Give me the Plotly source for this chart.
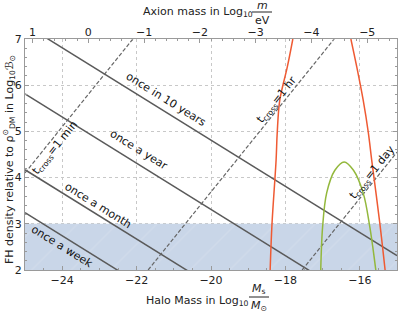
import plotly.graph_objects as go

# ---------------- data ----------------
# event-rate lines (solid): y values at x = -25 and x = -15
rate_x = [-25, -15]
once_10yr = [7.31, 2.31]
once_year = [5.81, 0.81]
once_month = [4.17, -0.83]
once_week = [3.24, -1.76]

# crossing-time lines (dashed)
tmin_x = [-25.0, -22.10]
tmin_y = [4.10, 7.0]
thr_x = [-21.69, -16.69]
thr_y = [2.0, 7.0]
tday_x = [-17.55, -15.0]
tday_y = [2.0, 4.55]

# red curve (two branches, leaving the top of the frame)
red_left_x = [-18.41, -18.36, -18.25, -18.22, -18.15, -17.95, -17.80]
red_left_y = [2.0, 3.0, 4.38, 4.97, 5.68, 6.39, 7.0]
red_right_x = [-16.24, -16.08, -15.91, -15.77, -15.68, -15.46, -15.32]
red_right_y = [7.0, 6.39, 5.68, 4.97, 4.38, 3.0, 2.0]

# green curve
green_x = [-17.05, -17.00, -16.89, -16.67, -16.42, -16.17, -15.91, -15.73, -15.57]
green_y = [2.0, 2.93, 3.67, 4.16, 4.34, 4.16, 3.67, 2.93, 2.0]

# shaded band
band_x = [-25, -15]
band_lo = 2
band_hi = 3

# axes
x_range = [-25, -15]
y_range = [2, 7]
bottom_ticks = [-24, -22, -20, -18, -16]
y_ticks = [2, 3, 4, 5, 6, 7]
axion_logm_ticks = [1, 0, -1, -2, -3, -4, -5]
axion_tick_text = ["1", "0", "\u22121", "\u22122", "\u22123", "\u22124", "\u22125"]
axion_minor = [v / 5 for v in range(7, -28, -1)]
# relation between halo mass and axion mass: logM = A + B*logm
A_REL, B_REL = -23.3, -1.5

FONT = "DejaVu Sans"
GRAY = "#5a5a5a"
FRAME = "#9a9a9a"

fig = go.Figure()

# band
fig.add_trace(go.Scatter(
    x=[band_x[0], band_x[1], band_x[1], band_x[0], band_x[0]],
    y=[band_lo, band_lo, band_hi, band_hi, band_lo],
    fill="toself", fillcolor="#c9d6e8", line=dict(width=0),
    fillpattern=dict(shape="/", fgcolor="#d5dfec", bgcolor="#c9d6e8", size=28, solidity=0.05),
    mode="lines", hoverinfo="skip", showlegend=False))

for ys in (once_10yr, once_year, once_month, once_week):
    fig.add_trace(go.Scatter(x=rate_x, y=ys, mode="lines",
                             line=dict(color=GRAY, width=1.5), showlegend=False))

for xs, ys in ((tmin_x, tmin_y), (thr_x, thr_y), (tday_x, tday_y)):
    fig.add_trace(go.Scatter(x=xs, y=ys, mode="lines",
                             line=dict(color="#666666", width=1.2, dash="4px,2px"),
                             showlegend=False))

for xs, ys in ((red_left_x, red_left_y), (red_right_x, red_right_y)):
    fig.add_trace(go.Scatter(x=xs, y=ys, mode="lines",
                             line=dict(color="#ef5a33", width=1.5, shape="spline"),
                             showlegend=False))

fig.add_trace(go.Scatter(x=green_x, y=green_y, mode="lines",
                         line=dict(color="#93b83c", width=1.5, shape="spline"),
                         showlegend=False))

# dummy trace for top axis
fig.add_trace(go.Scatter(x=[None], y=[None], xaxis="x2", showlegend=False))

# line labels
ang_rate = 31.8
ang_t = -51.2
labels = [
    ("once in 10 years", -21.21, 5.68, ang_rate),
    ("once a year", -21.96, 4.60, ang_rate),
    ("once a month", -23.04, 3.39, ang_rate),
    ("once a week", -24.01, 2.50, ang_rate),
    ("t<sub>cross</sub>=1 min", -24.19, 4.64, ang_t),
    ("t<sub>cross</sub>=1 hr", -18.23, 5.68, ang_t),
    ("t<sub>cross</sub>=1 day", -15.65, 4.12, ang_t),
]
ann = []
for t, x, y, a in labels:
    ann.append(dict(text=t, x=x, y=y, xref="x", yref="y", showarrow=False,
                    xanchor="center", yanchor="middle",
                    textangle=a, font=dict(family=FONT, size=11, color="#111")))

def px2paper_x(px):
    return (px - 25) / 372.0

def px2paper_y(py):
    return (270 - py) / 231.0

title_font = dict(family=FONT, size=11, color="#222")

def add_text(text, px, py, xanchor="center", angle=0):
    ann.append(dict(text=text, x=px2paper_x(px), y=px2paper_y(py), xref="paper", yref="paper",
                    xanchor=xanchor, yanchor="middle", showarrow=False, textangle=angle,
                    font=title_font))

# top title
add_text("Axion mass in Log<sub>10</sub>", 255, 12, xanchor="right")
add_text("<i>m</i>", 262, 5)
add_text("eV", 262, 20)
# bottom title
add_text("Halo Mass in Log<sub>10</sub>", 251, 301, xanchor="right")
add_text("<i>M</i><sub>s</sub>", 259, 289)
add_text("<i>M</i><sub>\u2299</sub>", 259, 306)
# y title
add_text("FH density relative to \u03c1<sup>\u2299</sup><sub>DM</sub> in Log<sub>10</sub>\u212c<sub>\u2299</sub>",
         9, 160, angle=-90)

shapes = [
    dict(type="line", xref="paper", yref="paper", x0=px2paper_x(252), x1=px2paper_x(272),
         y0=px2paper_y(12), y1=px2paper_y(12), line=dict(color="#222", width=1)),
    dict(type="line", xref="paper", yref="paper", x0=px2paper_x(249), x1=px2paper_x(269),
         y0=px2paper_y(297), y1=px2paper_y(297), line=dict(color="#222", width=1)),
]

tick_font = dict(family=FONT, size=11, color="#222")

fig.update_layout(
    width=399, height=314,
    margin=dict(l=25, r=2, t=39, b=44),
    paper_bgcolor="white", plot_bgcolor="white",
    showlegend=False,
    annotations=ann, shapes=shapes,
    xaxis=dict(range=x_range, tickmode="array", tickvals=bottom_ticks,
               ticktext=[str(v).replace("-", "\u2212") for v in bottom_ticks],
               ticks="inside", ticklen=4, tickcolor=FRAME, showline=True, linecolor=FRAME,
               linewidth=1, mirror=True, showgrid=True, gridcolor="#c8c8c8", griddash="dot",
               gridwidth=1, zeroline=False, tickfont=tick_font,
               minor=dict(ticks="inside", ticklen=2, dtick=0.5, tick0=-25, tickcolor=FRAME,
                          showgrid=False)),
    xaxis2=dict(range=x_range, overlaying="x", side="top", tickmode="array",
                tickvals=[A_REL + B_REL * v for v in axion_logm_ticks],
                ticktext=axion_tick_text, ticks="inside", ticklen=4, tickcolor=FRAME,
                showgrid=False, zeroline=False, tickfont=tick_font, showline=False,
                minor=dict(ticks="inside", ticklen=2, tickcolor=FRAME, tickmode="array",
                           tickvals=[A_REL + B_REL * v for v in axion_minor], showgrid=False)),
    yaxis=dict(range=y_range, tickmode="array", tickvals=y_ticks,
               ticks="inside", ticklen=4, tickcolor=FRAME, showline=True, linecolor=FRAME,
               linewidth=1, mirror="ticks", showgrid=True, gridcolor="#c8c8c8", griddash="dot",
               gridwidth=1, zeroline=False, tickfont=tick_font,
               minor=dict(ticks="inside", ticklen=2, dtick=0.2, tick0=2, tickcolor=FRAME,
                          showgrid=False)),
)

fig.write_html("out.html", config={"displayModeBar": False},
               post_script="document.body.style.margin='0';document.body.style.overflow='hidden';")
